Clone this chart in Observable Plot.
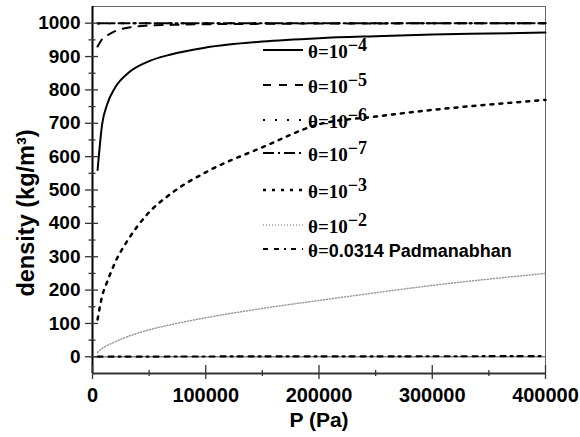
<!DOCTYPE html>
<html><head><meta charset="utf-8">
<script src="https://cdn.jsdelivr.net/npm/d3@7"></script>
<script src="https://cdn.jsdelivr.net/npm/@observablehq/plot@0.6"></script>
<style>
body{margin:0;background:#fff;}
#wrap{position:relative;width:580px;height:437px;}
.sample{position:absolute;left:262px;width:42px;height:10px;overflow:visible;}
.lbl{position:absolute;left:308px;height:20px;line-height:20px;white-space:nowrap;color:#000;
  font-family:"Liberation Serif","Times New Roman",serif;font-weight:bold;font-size:19px;}
.lbl .sup{position:relative;top:-7px;font-size:18px;}
.lbl .sans{font-family:"Liberation Sans",Arial,sans-serif;font-size:18px;}
</style></head>
<body><div id="wrap"></div>
<script>
// ---- data ----
const pressure = [4500, 8500, 13000, 20000, 32000, 47000, 70000, 100000, 150000, 200000, 250000, 300000, 350000, 400000];
const rhoTheta1e4 = [560, 697, 757, 807, 852, 882, 907, 927, 945, 955, 961, 966, 969, 972];
const rhoTheta1e5 = [930, 952, 963, 976, 987, 992, 995, 997, 998, 999, 999, 1000, 1000, 1000];
const rhoTheta1e6 = [999, 999, 999, 1000, 1000, 1000, 1000, 1000, 1000, 1000, 1000, 1000, 1000, 1000];
const rhoTheta1e7 = [1000, 1000, 1000, 1000, 1000, 1000, 1000, 1000, 1000, 1000, 1000, 1000, 1000, 1000];
const rhoTheta1e3 = [112, 182, 225, 283, 354, 422, 491, 553, 628, 697, 720, 740, 756, 770];
const rhoTheta1e2 = [13, 25, 34, 45, 62, 78, 97, 117, 145, 169, 192, 214, 233, 250];
const rhoPadmanabhan = [0.3, 0.4, 0.5, 0.6, 0.7, 0.8, 0.9, 1, 1.2, 1.4, 1.5, 1.7, 1.8, 2];

const seriesKeys = ["1e-4", "1e-5", "1e-6", "1e-7", "1e-3", "1e-2", "pad"];
const seriesValues = [rhoTheta1e4, rhoTheta1e5, rhoTheta1e6, rhoTheta1e7, rhoTheta1e3, rhoTheta1e2, rhoPadmanabhan];
const legendMain = ["θ=10", "θ=10", "θ=10", "θ=10", "θ=10", "θ=10", "θ=0.0314 Padmanabhan"];
const legendExp = ["−4", "−5", "−6", "−7", "−3", "−2", ""];

const yTicks = [0, 100, 200, 300, 400, 500, 600, 700, 800, 900, 1000];
const yMinorTicks = [50, 150, 250, 350, 450, 550, 650, 750, 850, 950];
const xTicks = [0, 100000, 200000, 300000, 400000];
const xMinorTicks = [50000, 150000, 250000, 350000];
const yTitle = "density (kg/m³)";
const xTitle = "P (Pa)";

// ---- styles / layout ----
const styles = {
  "1e-4": {stroke: "#000", width: 2, dash: null},
  "1e-5": {stroke: "#000", width: 2, dash: "8,8"},
  "1e-6": {stroke: "#000", width: 2, dash: "2,10"},
  "1e-7": {stroke: "#000", width: 2, dash: "11,4,2,4"},
  "1e-3": {stroke: "#000", width: 2.5, dash: "3,6"},
  "1e-2": {stroke: "#9a9a9a", width: 1.5, dash: "1,2"},
  "pad":  {stroke: "#000", width: 2.2, dash: "5,6,5,5,2,5"}
};
const legendY = [50, 85, 120, 153, 190, 225, 249];

const table = [];
seriesKeys.forEach((k, i) => pressure.forEach((p, j) => table.push({key: k, P: p, rho: seriesValues[i][j]})));

const lineMarks = seriesKeys.map(k => Plot.line(table.filter(d => d.key === k), {
  x: "P", y: "rho", curve: "monotone-x",
  stroke: styles[k].stroke, strokeWidth: styles[k].width,
  strokeDasharray: styles[k].dash || undefined
}));

const fmt = d3.format("d");

const chart = Plot.plot({
  width: 580, height: 437,
  marginLeft: 92, marginRight: 35, marginTop: 6, marginBottom: 64,
  style: {fontFamily: "'Liberation Sans', Arial, sans-serif", fontWeight: "bold", color: "#000", background: "#fff"},
  x: {domain: [0, 400000]},
  y: {domain: [-50, 1050]},
  marks: [
    Plot.frame({stroke: "#666"}),
    Plot.ruleY([0], {stroke: "#888", strokeWidth: 1.5}),
    ...lineMarks,
    Plot.ruleX([0], {stroke: "#000", strokeWidth: 2}),
    Plot.ruleY([-50], {stroke: "#333", strokeWidth: 2}),
    Plot.axisY(yTicks, {tickSize: 13, dx: 6, tickFormat: () => "", label: null, stroke: "#333", strokeWidth: 1.3}),
    Plot.axisY(yMinorTicks, {tickSize: 7, dx: 3.5, tickFormat: () => "", label: null, stroke: "#333", strokeWidth: 1.3}),
    Plot.axisY(yTicks, {tickSize: 0, tickPadding: 12, fontSize: 19, fontWeight: "bold", tickFormat: fmt, label: null}),
    Plot.text([yTitle], {text: d => d, frameAnchor: "left", rotate: -90, dx: -66, dy: 23,
      fontSize: 23.5, fontWeight: "bold", textAnchor: "middle", lineAnchor: "middle", fill: "#000"}),
    Plot.axisX(xTicks, {tickSize: 14, dy: -8, tickFormat: () => "", label: null, stroke: "#333", strokeWidth: 1.3}),
    Plot.axisX(xMinorTicks, {tickSize: 6, dy: -3, tickFormat: () => "", label: null, stroke: "#333", strokeWidth: 1.3}),
    Plot.axisX(xTicks, {tickSize: 0, tickPadding: 14, fontSize: 20, fontWeight: "bold", tickFormat: fmt, label: null}),
    Plot.axisX([], {label: xTitle, labelAnchor: "center", labelArrow: "none", labelOffset: 53, fontSize: 21, fontWeight: "bold"})
  ]
});

const wrap = document.getElementById("wrap");
wrap.appendChild(chart);

// legend overlay
seriesKeys.forEach((k, i) => {
  const s = styles[k];
  const y = legendY[i];
  const svg = d3.create("svg").attr("class", "sample").attr("width", 42).attr("height", 10)
    .style("top", (y - 5) + "px");
  svg.append("line").attr("x1", 1).attr("x2", 41).attr("y1", 5).attr("y2", 5)
    .attr("stroke", s.stroke).attr("stroke-width", s.width)
    .attr("stroke-dasharray", s.dash);
  wrap.appendChild(svg.node());
  const div = document.createElement("div");
  div.className = "lbl";
  div.style.top = (y - 8) + "px";
  if (legendExp[i]) {
    div.innerHTML = legendMain[i] + '<span class="sup">' + legendExp[i] + '</span>';
  } else {
    div.innerHTML = '<span>θ=</span><span class="sans">' + legendMain[i].slice(2) + '</span>';
  }
  wrap.appendChild(div);
});
</script>
</body></html>
